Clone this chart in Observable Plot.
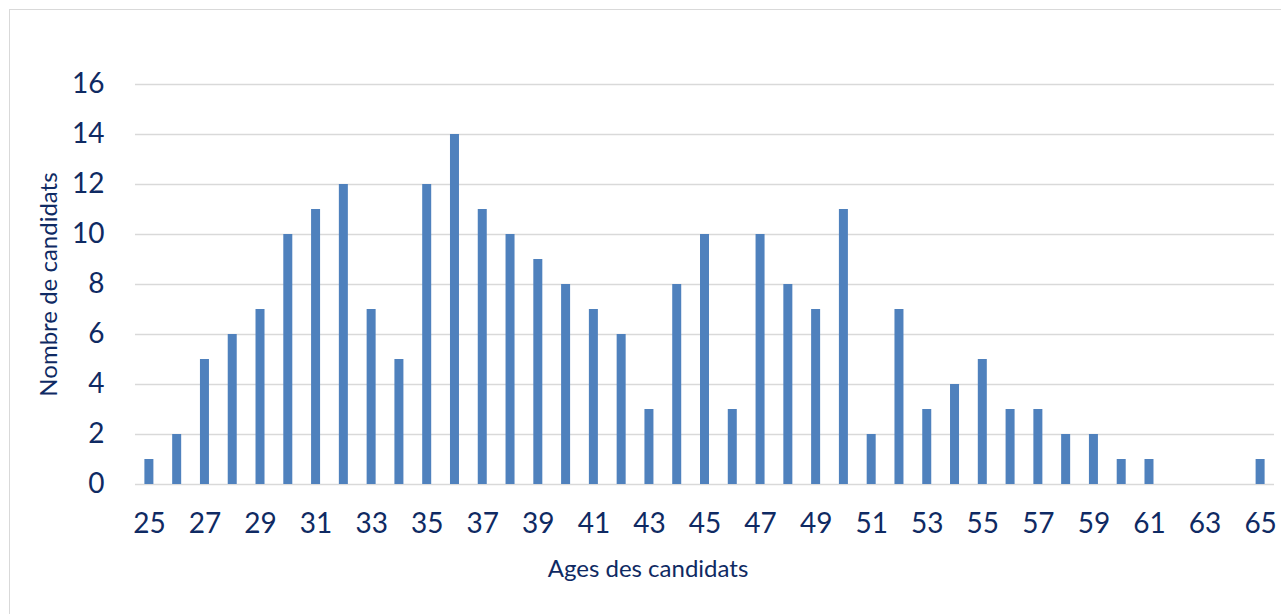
<!DOCTYPE html>
<html>
<head>
<meta charset="utf-8">
<script src="https://cdn.jsdelivr.net/npm/d3@7"></script>
<script src="https://cdn.jsdelivr.net/npm/@observablehq/plot@0.6"></script>
<style>
  html, body { margin: 0; padding: 0; background: #fff; overflow: hidden; }
  #frame { position: absolute; left: 9px; top: 9px; width: 1290px; height: 640px; border: 1.5px solid #d9d9d9; box-sizing: border-box; }
  #chart { position: absolute; left: 0; top: 0; }
</style>
</head>
<body>
<div id="frame"></div>
<div id="chart"></div>
<script>
const ages = d3.range(25, 66);
const counts = [1, 2, 5, 6, 7, 10, 11, 12, 7, 5, 12, 14, 11, 10, 9, 8, 7, 6, 3, 8, 10, 3, 10, 8, 7, 11, 2, 7, 3, 4, 5, 3, 3, 2, 2, 1, 1, 0, 0, 0, 1];
const xTicks = ages.filter(a => a % 2 === 1);
const yTicks = [0, 2, 4, 6, 8, 10, 12, 14, 16];

const data = ages.map((a, i) => ({age: a, count: counts[i]}));
const textColor = "#0f2a63";

const chart = Plot.plot({
  width: 1281,
  height: 614,
  marginLeft: 135,
  marginRight: 7,
  marginTop: 84,
  marginBottom: 130,
  style: {fontFamily: "Lato, 'Open Sans', sans-serif", color: textColor, background: "transparent", overflow: "visible"},
  x: {type: "band", domain: ages, paddingInner: 0.676, paddingOuter: 0.338, align: 0.5},
  y: {domain: [0, 16]},
  marks: [
    Plot.gridY(yTicks, {stroke: "#d9d9d9", strokeOpacity: 1, strokeWidth: 1.5}),
    Plot.barY(data, {x: "age", y: "count", fill: "#4f81bd"}),
    Plot.axisX({ticks: xTicks, tickSize: 0, tickPadding: 29, fontSize: 28, fill: textColor,
      label: "Ages des candidats", labelAnchor: "center", labelOffset: 92, labelArrow: "none"}),
    Plot.axisY({ticks: yTicks, tickSize: 0, tickPadding: 31, fontSize: 28, fill: textColor,
      label: "Nombre de candidats", labelAnchor: "center", labelOffset: 96, labelArrow: "none"})
  ]
});
document.getElementById("chart").appendChild(chart);
// axis title font size and placement
chart.querySelectorAll("[aria-label='x-axis label'] text, [aria-label='y-axis label'] text").forEach(t => t.setAttribute("font-size", 24));
chart.querySelectorAll("[aria-label='x-axis label'] text").forEach(t => t.setAttribute("dx", -57));
</script>
</body>
</html>
